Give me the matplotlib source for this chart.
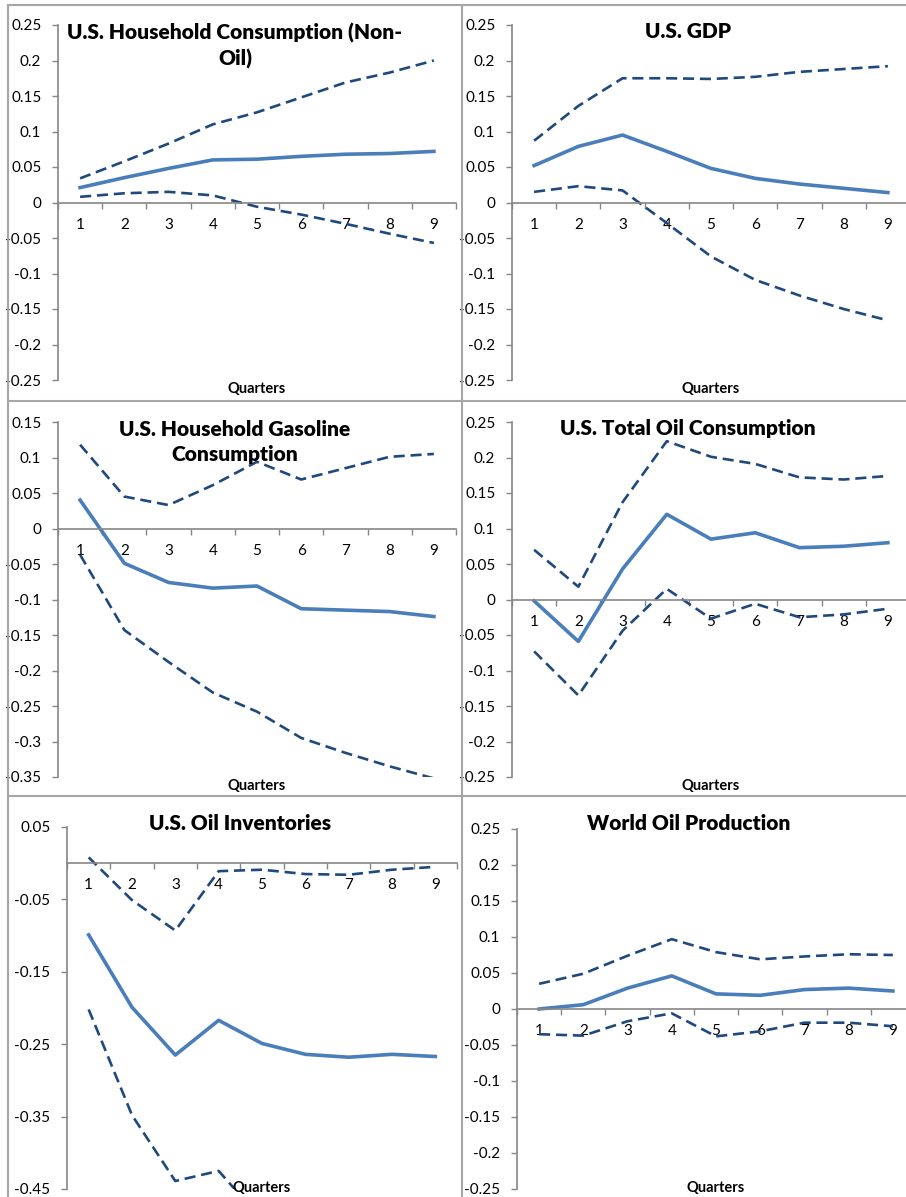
import numpy as np
import matplotlib
matplotlib.use('Agg')
import matplotlib.pyplot as plt
from matplotlib.lines import Line2D


plt.rcParams['font.family'] = ['Lato', 'DejaVu Sans']
plt.rcParams['font.size'] = 11

W, H = 906, 1197

quarters = [1, 2, 3, 4, 5, 6, 7, 8, 9]

# impulse responses with upper / lower bands
cons_irf = [0.021, 0.035, 0.048, 0.060, 0.061, 0.065, 0.068, 0.069, 0.072]
cons_up = [0.034, 0.058, 0.083, 0.110, 0.127, 0.148, 0.169, 0.183, 0.200]
cons_lo = [0.008, 0.013, 0.015, 0.010, -0.006, -0.017, -0.030, -0.044, -0.057]

gdp_irf = [0.052, 0.079, 0.095, 0.072, 0.048, 0.034, 0.026, 0.020, 0.014]
gdp_up = [0.087, 0.136, 0.175, 0.175, 0.174, 0.177, 0.184, 0.188, 0.192]
gdp_lo = [0.015, 0.023, 0.017, -0.029, -0.076, -0.109, -0.131, -0.150, -0.166]

gas_irf = [0.040, -0.049, -0.076, -0.084, -0.081, -0.113, -0.115, -0.117, -0.124]
gas_up = [0.118, 0.045, 0.033, 0.061, 0.094, 0.069, 0.085, 0.101, 0.105]
gas_lo = [-0.037, -0.143, -0.188, -0.231, -0.258, -0.295, -0.316, -0.335, -0.352]

oil_irf = [-0.002, -0.059, 0.043, 0.120, 0.085, 0.094, 0.073, 0.075, 0.080]
oil_up = [0.070, 0.018, 0.137, 0.223, 0.201, 0.191, 0.172, 0.169, 0.174]
oil_lo = [-0.073, -0.135, -0.044, 0.015, -0.027, -0.006, -0.025, -0.021, -0.013]

inv_irf = [-0.099, -0.199, -0.265, -0.217, -0.249, -0.264, -0.268, -0.264, -0.267]
inv_up = [0.008, -0.051, -0.093, -0.011, -0.009, -0.015, -0.016, -0.009, -0.005]
inv_lo = [-0.202, -0.348, -0.439, -0.425, -0.493, -0.515, -0.525, -0.530, -0.530]

prod_irf = [0.000, 0.006, 0.029, 0.046, 0.021, 0.019, 0.027, 0.029, 0.025]
prod_up = [0.035, 0.049, 0.074, 0.097, 0.079, 0.069, 0.073, 0.076, 0.075]
prod_lo = [-0.035, -0.037, -0.017, -0.006, -0.038, -0.031, -0.019, -0.019, -0.024]

titles = ['U.S. Household Consumption (Non-\nOil)', 'U.S. GDP',
          'U.S. Household Gasoline\nConsumption', 'U.S. Total Oil Consumption',
          'U.S. Oil Inventories', 'World Oil Production']

SOLID = '#4A7EBB'
DASH = '#1F497D'
AXC = '#868686'


def frac_box(x0, y0, x1, y1):
    return [x0 / W, 1 - y1 / H, (x1 - x0) / W, (y1 - y0) / H]


# plot box in pixels, y range, tick step, title centre, title y
panels = [
    dict(box=(58, 25, 456, 380), ylim=(-0.25, 0.25), step=0.05,
         data=(cons_irf, cons_up, cons_lo), tx=235, ty=46),
    dict(box=(512, 25, 910, 380), ylim=(-0.25, 0.25), step=0.05,
         data=(gdp_irf, gdp_up, gdp_lo), tx=688, ty=32),
    dict(box=(58, 422, 456, 777), ylim=(-0.35, 0.15), step=0.05,
         data=(gas_irf, gas_up, gas_lo), tx=235, ty=442),
    dict(box=(512, 422, 910, 777), ylim=(-0.25, 0.25), step=0.05,
         data=(oil_irf, oil_up, oil_lo), tx=688, ty=428),
    dict(box=(67, 827, 457, 1189), ylim=(-0.45, 0.05), step=0.1,
         data=(inv_irf, inv_up, inv_lo), tx=240, ty=824),
    dict(box=(517, 829, 915, 1189), ylim=(-0.25, 0.25), step=0.05,
         data=(prod_irf, prod_up, prod_lo), tx=689, ty=824),
]

fig = plt.figure(figsize=(W / 100, H / 100), dpi=100)

for p, title in zip(panels, titles):
    x0, y0, x1, y1 = p['box']
    ax = fig.add_axes(frac_box(x0, y0, x1, y1))
    irf, up, lo = p['data']
    ax.plot(quarters, up, color=DASH, lw=1.9, dashes=(4.2, 2.2))
    ax.plot(quarters, lo, color=DASH, lw=1.9, dashes=(4.2, 2.2))
    ax.plot(quarters, irf, color=SOLID, lw=2.6, solid_joinstyle='round')

    ymin, ymax = p['ylim']
    ax.set_xlim(0.5, 9.5)
    ax.set_ylim(ymin, ymax)
    yt = np.round(np.arange(ymin, ymax + p['step'] / 2, p['step']), 3)
    ax.set_yticks(yt)
    ax.set_yticklabels(['0' if abs(v) < 1e-9 else f'{v:g}' for v in yt])

    ax.set_xticks(np.arange(0.5, 10, 1.0))
    ax.set_xticklabels([])
    ax.set_xticks(quarters, minor=True)
    ax.set_xticklabels([str(q) for q in quarters], minor=True)
    ax.tick_params(axis='x', which='major', direction='out', length=4,
                   width=1, color=AXC)
    ax.tick_params(axis='x', which='minor', length=0, pad=11, labelsize=11)
    ax.tick_params(axis='y', direction='out', length=4, width=1, color=AXC,
                   pad=8, labelsize=11)

    for s in ['top', 'right']:
        ax.spines[s].set_visible(False)
    ax.spines['bottom'].set_position(('data', 0))
    ax.spines['bottom'].set_color(AXC)
    ax.spines['left'].set_color(AXC)
    ax.spines['bottom'].set_linewidth(1.2)
    ax.spines['left'].set_linewidth(1.2)
    ax.patch.set_alpha(0)

    fig.text(p['tx'] / W, 1 - p['ty'] / H, title, ha='center', va='center',
             fontsize=15, fontweight='heavy', linespacing=1.4)
    fig.text((x0 + x1) / 2 / W, 1 - (y1 - 1 if y1 > 1185 else y1 + 9) / H,
             'Quarters', ha='center', va='center', fontsize=10.5,
             fontweight='bold')

# chart frames
for xs, ys in [((8, 906), (5, 5)), ((8, 906), (401, 401)), ((8, 906), (796, 796)),
               ((8, 8), (5, 1197)), ((461.5, 461.5), (5, 1197))]:
    fig.add_artist(Line2D([x / W for x in xs], [1 - y / H for y in ys],
                          color='#A6A6A6', lw=1.5))

fig.savefig('out.png', dpi=100)
